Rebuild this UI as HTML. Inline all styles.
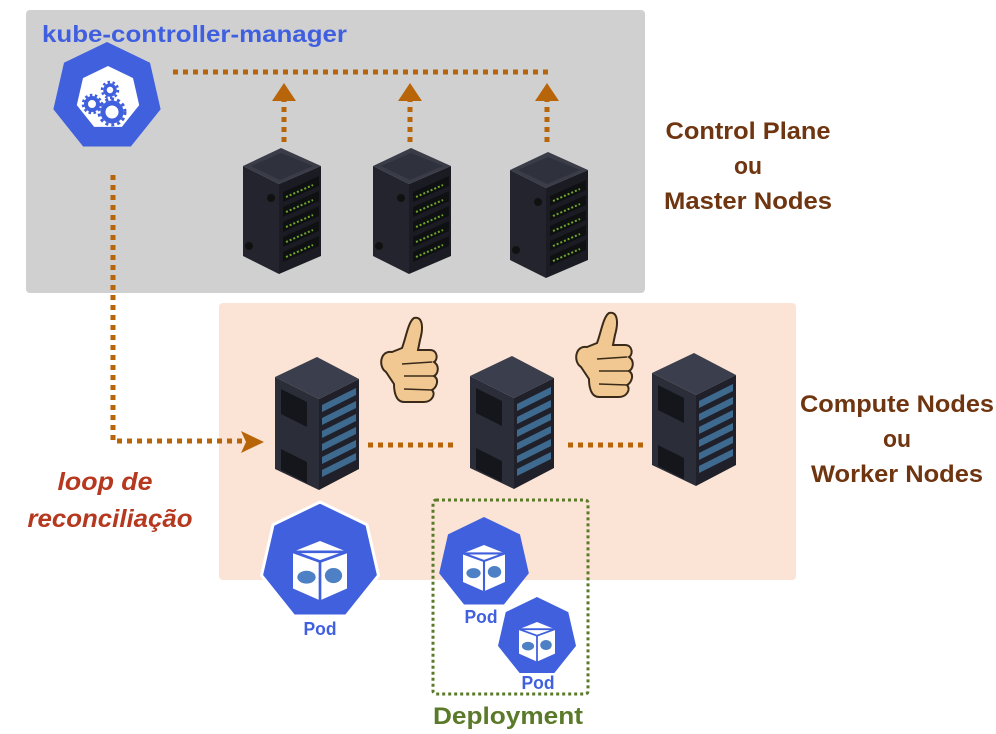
<!DOCTYPE html>
<html><head><meta charset="utf-8"><style>
html,body{margin:0;padding:0;background:#fff;}
svg{display:block;}
text{font-family:"Liberation Sans",sans-serif;font-weight:bold;}
</style></head><body>
<svg width="996" height="734" viewBox="0 0 996 734" xmlns="http://www.w3.org/2000/svg">
<defs>
  <polygon id="hep" points="0,-1 0.782,-0.623 0.975,0.223 0.434,0.901 -0.434,0.901 -0.975,0.223 -0.782,-0.623" stroke-linejoin="round"/>
  <g id="srvT">
    <polygon points="0,18 38,0 78,18 36,36" fill="#3a3c48"/>
    <polygon points="8,18 38,5 70,18 37,32" fill="#2f313c"/>
    <polygon points="0,18 36,36 36,126 0,108" fill="#23242d"/>
    <polygon points="36,36 78,18 78,108 36,126" fill="#1b1c23"/>
    <circle cx="28" cy="50" r="4" fill="#111"/>
    <circle cx="6" cy="98" r="4" fill="#111"/>
    <g fill="#0f1012">
      <polygon points="40,44 76,28 76,38 40,54"/>
      <polygon points="40,59 76,43 76,53 40,69"/>
      <polygon points="40,74 76,58 76,68 40,84"/>
      <polygon points="40,89 76,73 76,83 40,99"/>
      <polygon points="40,104 76,88 76,98 40,114"/>
    </g>
    <g stroke="#6fa82a" stroke-width="2" stroke-dasharray="2 2">
      <line x1="43" y1="49" x2="70" y2="37"/>
      <line x1="43" y1="64" x2="70" y2="52"/>
      <line x1="43" y1="79" x2="70" y2="67"/>
      <line x1="43" y1="94" x2="70" y2="82"/>
      <line x1="43" y1="109" x2="70" y2="97"/>
    </g>
  </g>
  <g id="srvB">
    <polygon points="0,20 42,0 84,22 44,42" fill="#3b3e4c"/>
    <polygon points="0,20 44,42 44,133 0,112" fill="#2b2d38"/>
    <polygon points="44,42 84,22 84,112 44,133" fill="#1f2029"/>
    <polygon points="6,32 32,45 32,70 6,57" fill="#15161c"/>
    <polygon points="6,92 32,105 32,126 6,113" fill="#15161c"/>
    <g fill="#3f6a90">
      <polygon points="47,48 81,31 81,38 47,55"/>
      <polygon points="47,61 81,44 81,51 47,68"/>
      <polygon points="47,74 81,57 81,64 47,81"/>
      <polygon points="47,87 81,70 81,77 47,94"/>
      <polygon points="47,100 81,83 81,90 47,107"/>
      <polygon points="47,113 81,96 81,103 47,120"/>
    </g>
  </g>
  <g id="cube">
    <polygon points="-0.5,-0.3 0,-0.5 0.5,-0.3 0.5,0.38 0,0.6 -0.5,0.38" fill="#fff"/>
    <polygon points="-0.5,-0.3 0,-0.12 0.5,-0.3" fill="none" stroke="#4060de" stroke-width="0.05"/>
    <line x1="0" y1="-0.12" x2="0" y2="0.6" stroke="#4060de" stroke-width="0.05"/>
    <ellipse cx="-0.25" cy="0.17" rx="0.17" ry="0.12" fill="#4d80c4"/>
    <ellipse cx="0.25" cy="0.14" rx="0.16" ry="0.14" fill="#4d80c4"/>
  </g>
  <g id="thumb">
    <path d="M-24,10 C-32,5 -30,-12 -18,-10 L-8,-14 C-4,-24 -2,-40 4,-44 C12,-46 14,-36 10,-22 L8,-12 L20,-12 C28,-12 28,-2 24,0 C30,4 28,12 24,14 C30,18 26,26 22,28 C26,32 22,40 14,40 L-6,40 C-14,40 -16,30 -16,22 Z" fill="#f1c892" stroke="#3a2a1a" stroke-width="2"/>
    <path d="M-8,2 L22,0 M-6,14 L24,14 M-6,27 L22,28" stroke="#3a2a1a" stroke-width="1.5" fill="none"/>
  </g>
</defs>

<rect x="26" y="10" width="619" height="283" rx="4" fill="#d0d0d0"/>
<rect x="219" y="303" width="577" height="277" rx="4" fill="#fbe4d5"/>

<text x="42" y="42" font-size="23" fill="#3f5fe0" textLength="305" lengthAdjust="spacingAndGlyphs">kube-controller-manager</text>

<g transform="translate(107,97) scale(55)"><use href="#hep" fill="#4060de"/></g>
<g transform="translate(108,98) scale(32)"><use href="#hep" fill="#fff"/></g>
<g fill="none" stroke="#4060de">
  <circle cx="112" cy="112" r="9" stroke-width="5"/>
  <circle cx="112" cy="112" r="13" stroke-width="3" stroke-dasharray="3 3"/>
  <circle cx="92" cy="104" r="6" stroke-width="4"/>
  <circle cx="92" cy="104" r="9" stroke-width="2.5" stroke-dasharray="2.5 2.5"/>
  <circle cx="110" cy="90" r="5" stroke-width="3.5"/>
  <circle cx="110" cy="90" r="8" stroke-width="2.5" stroke-dasharray="2.5 2.5"/>
</g>

<g stroke="#b8650a" stroke-width="5" fill="none" stroke-dasharray="5 5">
  <path d="M173,72 H552"/>
  <path d="M284,142 V100"/>
  <path d="M410,142 V100"/>
  <path d="M547,142 V100"/>
  <path d="M113,175 V441 H245"/>
  <path d="M368,445 H458"/>
  <path d="M568,445 H648"/>
</g>
<g fill="#b8650a">
  <polygon points="284,83 272,101 296,101"/>
  <polygon points="410,83 398,101 422,101"/>
  <polygon points="547,83 535,101 559,101"/>
  <polygon points="264,442 241,431 246,442 241,453"/>
</g>

<use href="#srvT" transform="translate(243,148)"/>
<use href="#srvT" transform="translate(373,148)"/>
<use href="#srvT" transform="translate(510,152)"/>

<use href="#srvB" transform="translate(275,357)"/>
<use href="#srvB" transform="translate(470,356)"/>
<use href="#srvB" transform="translate(652,353)"/>

<use href="#thumb" transform="translate(410,362)"/>
<use href="#thumb" transform="translate(605,357)"/>

<g font-size="24" fill="#6e3510" text-anchor="middle">
<text x="748" y="139" textLength="165" lengthAdjust="spacingAndGlyphs">Control Plane</text>
<text x="748" y="174" textLength="28" lengthAdjust="spacingAndGlyphs">ou</text>
<text x="748" y="209" textLength="168" lengthAdjust="spacingAndGlyphs">Master Nodes</text>
<text x="897" y="412" textLength="194" lengthAdjust="spacingAndGlyphs">Compute Nodes</text>
<text x="897" y="447" textLength="28" lengthAdjust="spacingAndGlyphs">ou</text>
<text x="897" y="482" textLength="172" lengthAdjust="spacingAndGlyphs">Worker Nodes</text>
</g>

<g font-size="25" font-style="italic" fill="#b5381f" text-anchor="middle">
<text x="105" y="490" textLength="95" lengthAdjust="spacingAndGlyphs">loop de</text>
<text x="110" y="527" textLength="165" lengthAdjust="spacingAndGlyphs">reconciliação</text>
</g>

<g transform="translate(320,562) scale(60)"><use href="#hep" fill="#4060de" stroke="#fff" stroke-width="0.05"/></g>
<g transform="translate(320,568) scale(54)"><use href="#cube"/></g>
<text x="320" y="635" font-size="18" fill="#4060de" text-anchor="middle" textLength="33" lengthAdjust="spacingAndGlyphs">Pod</text>

<rect x="433" y="500" width="155" height="194" rx="3" fill="none" stroke="#5a7a2a" stroke-width="3" stroke-dasharray="3 3"/>

<g transform="translate(484,563) scale(46)"><use href="#hep" fill="#4060de"/></g>
<g transform="translate(484,566) scale(42)"><use href="#cube"/></g>
<text x="481" y="623" font-size="18" fill="#4060de" text-anchor="middle" textLength="33" lengthAdjust="spacingAndGlyphs">Pod</text>

<g transform="translate(537,637) scale(40)"><use href="#hep" fill="#4060de"/></g>
<g transform="translate(537,640) scale(36)"><use href="#cube"/></g>
<text x="538" y="689" font-size="18" fill="#4060de" text-anchor="middle" textLength="33" lengthAdjust="spacingAndGlyphs">Pod</text>

<text x="508" y="724" font-size="24" fill="#5a7a2a" text-anchor="middle" textLength="150" lengthAdjust="spacingAndGlyphs">Deployment</text>
</svg>
</body></html>
